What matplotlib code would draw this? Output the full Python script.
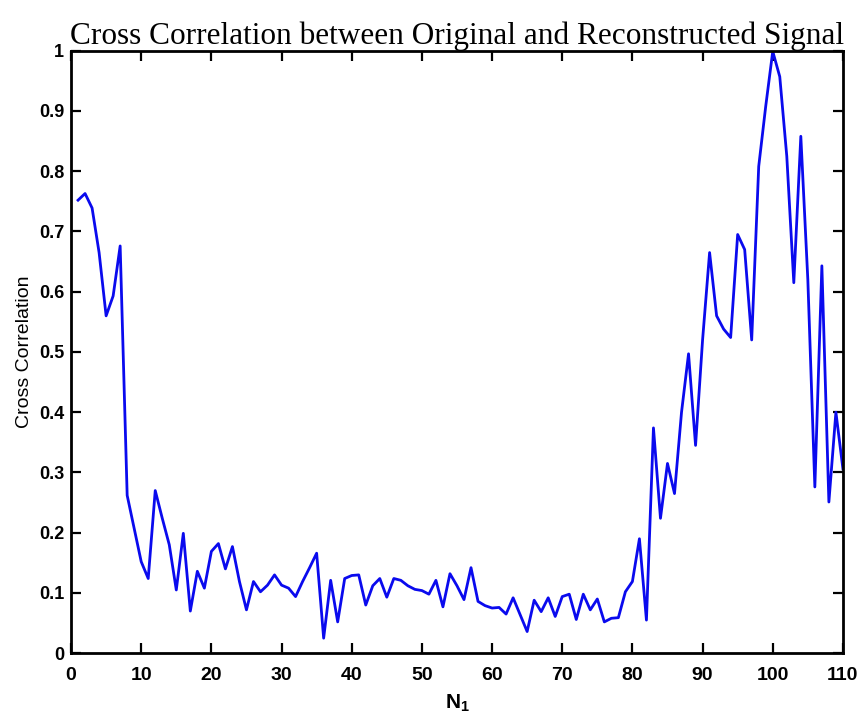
import numpy as np
import matplotlib
matplotlib.use("Agg")
import matplotlib.pyplot as plt
from matplotlib.font_manager import FontProperties

# N1 from 1 to 110
n1 = np.arange(1, 111)
xcorr = [
    0.752, 0.763, 0.739, 0.665, 0.560, 0.593, 0.676, 0.262, 0.207, 0.152,
    0.124, 0.270, 0.224, 0.180, 0.105, 0.199, 0.070, 0.136, 0.108, 0.169,
    0.182, 0.140, 0.177, 0.119, 0.072, 0.119, 0.102, 0.113, 0.130, 0.113,
    0.108, 0.094, 0.119, 0.142, 0.166, 0.025, 0.121, 0.052, 0.124, 0.129,
    0.130, 0.080, 0.112, 0.124, 0.093, 0.124, 0.121, 0.112, 0.106, 0.104,
    0.098, 0.121, 0.077, 0.132, 0.112, 0.089, 0.142, 0.086, 0.079, 0.075,
    0.076, 0.065, 0.092, 0.064, 0.036, 0.088, 0.069, 0.092, 0.061, 0.094,
    0.098, 0.056, 0.098, 0.072, 0.090, 0.052, 0.058, 0.059, 0.102, 0.119,
    0.190, 0.055, 0.374, 0.224, 0.315, 0.265, 0.400, 0.497, 0.345, 0.520,
    0.665, 0.560, 0.538, 0.524, 0.695, 0.670, 0.520, 0.808, 0.908, 0.999,
    0.957, 0.825, 0.615, 0.858, 0.620, 0.276, 0.643, 0.251, 0.400, 0.306,
]
xticks = list(range(0, 111, 10))
yticks = [0, 0.1, 0.2, 0.3, 0.4, 0.5, 0.6, 0.7, 0.8, 0.9, 1]
ytick_labels = ['0', '0.1', '0.2', '0.3', '0.4', '0.5', '0.6', '0.7', '0.8', '0.9', '1']

fig = plt.figure(figsize=(8.61, 7.25), dpi=100)
ax = fig.add_axes([0.0825, 0.099, 0.8965, 0.831])

ax.plot(n1, xcorr, color='#0a0aee', lw=2.0)

ax.set_xlim(0, 110)
ax.set_ylim(0, 1)
ax.set_xticks(xticks)
ax.set_yticks(yticks)
ax.set_yticklabels(ytick_labels)

for lab in ax.get_xticklabels():
    lab.set_fontproperties(FontProperties(family='Liberation Sans', size=14, weight='bold'))
for lab in ax.get_yticklabels():
    lab.set_fontproperties(FontProperties(family='Liberation Sans', size=13, weight='bold'))

ax.tick_params(direction='in', length=7, width=1.6, top=True, right=True)
ax.tick_params(axis='x', pad=10)
ax.tick_params(axis='y', pad=5)
for s in ax.spines.values():
    s.set_linewidth(2)

ax.set_ylabel('Cross Correlation', family='Liberation Sans', fontsize=14, labelpad=4)
ax.set_xlabel(r'N$_\mathregular{1}$', family='Liberation Sans', fontsize=15, weight='bold', labelpad=6)
ax.set_title('Cross Correlation between Original and Reconstructed Signal',
             family='Liberation Serif', fontsize=22.5, pad=5)

fig.savefig('out.png', dpi=100)
